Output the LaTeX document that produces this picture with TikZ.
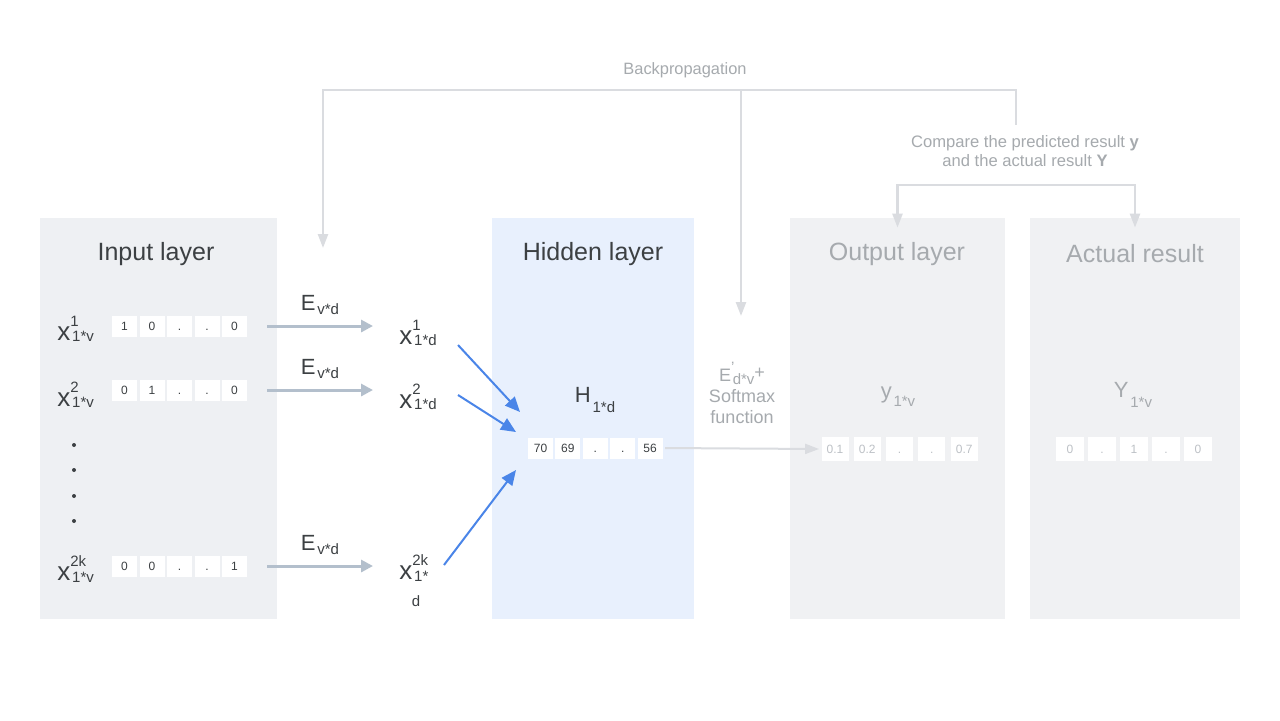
\documentclass[tikz,border=0pt]{standalone}
\usepackage{fontspec}
\setmainfont{Liberation Sans}
\usetikzlibrary{arrows.meta,positioning}

\definecolor{panelgray}{HTML}{EEF0F3}
\definecolor{panellight}{HTML}{F0F1F3}
\definecolor{hidblue}{HTML}{E8F0FD}
\definecolor{txtdark}{HTML}{3C4043}
\definecolor{txtmid}{HTML}{A6AAAE}
\definecolor{txtfaint}{HTML}{BDC1C6}
\definecolor{linegray}{HTML}{DADCE0}
\definecolor{embgray}{HTML}{B3BFCC}
\definecolor{arrblue}{HTML}{4A85E8}

% base letter with a raised and a lowered script
\newcommand{\scr}{\fontsize{7.5}{8}\selectfont}
\newcommand{\sx}[4][-0.3ex]{#2\rlap{\raisebox{1.0ex}{\scr#3}}\raisebox{#1}{\scr\kern0.12em#4}}

\tikzset{
  panel/.style={inner sep=0pt, minimum height=200.5pt},
  title/.style={font=\fontsize{12.5}{15}\selectfont, text=txtdark},
  lbl/.style={font=\fontsize{11}{13}\selectfont, text=txtdark, inner sep=1pt},
  xlbl/.style={lbl, font=\fontsize{13}{15}\selectfont},
  cell/.style={fill=white, inner sep=0pt, minimum width=12.5pt, minimum height=10.5pt,
    text height=4.4pt, text depth=0pt, font=\fontsize{6}{7}\selectfont, text=txtdark},
  bigcell/.style={cell, minimum width=13.5pt, minimum height=12pt, text=txtfaint},
  embarr/.style={draw=embgray, line width=1.5pt, shorten >=12pt, -{Triangle[length=6pt,width=6pt]}},
  hidarr/.style={draw=arrblue, line width=1pt, -{Triangle[length=7.5pt,width=6.5pt]}},
  back/.style={draw=linegray, line width=1.2pt, >={Triangle[length=7pt,width=5pt]}},
}

\begin{document}
\begin{tikzpicture}[x=0.5pt,y=-0.5pt]
\useasboundingbox[fill=white] (0,0) rectangle (1280,720);

% panels
\node[panel, fill=panelgray, minimum width=118.5pt] (input) at (158.5,418.5) {};
\node[panel, fill=hidblue, minimum width=101pt] (hidden) at (593,418.5) {};
\node[panel, fill=panellight, minimum width=107.5pt] (output) at (897.5,418.5) {};
\node[panel, fill=panellight, minimum width=105pt] (actual) at (1135,418.5) {};

\node[title] (tin) at (156,254) {Input layer};
\node[title] (thid) at (593,254) {Hidden layer};
\node[title, text=txtmid] (tout) at (897,254) {Output layer};
\node[title, text=txtmid] (tact) at (1135,254) {Actual result};

% input layer
\node[xlbl, anchor=west] (x1) at (55,329) {\sx[-0.1ex]{x}{1}{1*v}};
\node[xlbl, anchor=west] (x2) at (55,395) {\sx[-0.1ex]{x}{2}{1*v}};
\node[xlbl, anchor=west] (x3) at (55,569) {\sx[-0.1ex]{x}{2k}{1*v}};
\foreach \v [count=\i] in {1,0,.,.,0}
  \node[cell] (a1-\i) at ({124.5+27.5*(\i-1)},326) {\v};
\foreach \v [count=\i] in {0,1,.,.,0}
  \node[cell] (a2-\i) at ({124.5+27.5*(\i-1)},390) {\v};
\foreach \v [count=\i] in {0,0,.,.,1}
  \node[cell] (a3-\i) at ({124.5+27.5*(\i-1)},566) {\v};
\foreach \y in {445,470,496,521}
  \fill[txtdark] (74,\y) circle (1pt);

% embedding
\node[xlbl, anchor=west] (v1) at (397,333) {\sx[-0.1ex]{x}{1}{1*d}};
\node[xlbl, anchor=west] (v2) at (397,397) {\sx[-0.1ex]{x}{2}{1*d}};
\node[xlbl, anchor=west] (v3) at (397,568) {\sx[-0.1ex]{x}{2k}{1*}};
\node[lbl, font=\scr] (v3d) at (416,601) {d};
\node[lbl] (e1) at (320,305) {\sx{E}{}{v*d}};
\node[lbl] (e2) at (320,369) {\sx{E}{}{v*d}};
\node[lbl] (e3) at (320,545) {\sx{E}{}{v*d}};
\draw[embarr] ([xshift=10pt]a1-5.east) -- (a1-5.east -| v1.west);
\draw[embarr] ([xshift=10pt]a2-5.east) -- (a2-5.east -| v2.west);
\draw[embarr] ([xshift=10pt]a3-5.east) -- (a3-5.east -| v3.west);

% hidden layer
\node[lbl] (hv) at (595,400) {\sx[-0.8ex]{H}{}{1*d}};
\foreach \v [count=\i] in {70,69,.,.,56}
  \node[cell] (h-\i) at ({540.5+27.4*(\i-1)},448) {\v};
\coordinate (s1) at (458,345); \coordinate (t1) at (520,412);
\coordinate (s2) at (458,395); \coordinate (t2) at (516,432);
\coordinate (s3) at (444,565); \coordinate (t3) at (516,470);
\draw[hidarr] (s1) -- (t1);
\draw[hidarr] (s2) -- (t2);
\draw[hidarr] (s3) -- (t3);

% output + actual
\node[lbl, text=txtmid, font=\fontsize{9}{10.5}\selectfont, align=center] (sm) at (742,393)
  {\sx{E}{'}{d*v}\raisebox{0.4ex}{+}\\Softmax\\function};
\node[lbl, text=txtmid] (ov) at (898,397) {\sx[-0.7ex]{y}{}{1*v}};
\foreach \v [count=\i] in {0.1,0.2,.,.,0.7}
  \node[bigcell] (o-\i) at ({835+32.3*(\i-1)},449) {\v};
\draw[back, line width=1pt, ->] ([xshift=1pt]h-5.east) -- ([xshift=-1pt]o-1.west);
\node[lbl, text=txtmid] (av) at (1133,395) {\sx[-0.8ex]{Y}{}{1*v}};
\foreach \v [count=\i] in {0,.,1,.,0}
  \node[bigcell, minimum width=14pt] (r-\i) at ({1070+32*(\i-1)},449) {\v};

% backpropagation
\node[text=txtmid, font=\fontsize{8.2}{9}\selectfont] (bp) at (685,70) {Backpropagation};
\node[text=txtmid, font=\fontsize{8.3}{9.5}\selectfont, align=center] (cmp) at (1025,151)
  {Compare the predicted result \textbf{y}\\and the actual result \textbf{Y}};
\coordinate (bpl) at (323,90); \coordinate (bpm) at (741,90); \coordinate (bpr) at (1016,90);
\coordinate (ea) at (323,248); \coordinate (sa) at (741,316); \coordinate (bpe) at (1016,125);
\draw[back, <-] (ea) -- (bpl) -- (bpr) -- (bpe);
\draw[back, ->] (bpm) -- (sa);
\coordinate (bk) at (1015,185);
\draw[back, <->] ([yshift=-5pt]output.north) |- (bk) -| ([yshift=-5pt]actual.north);
\end{tikzpicture}
\end{document}
